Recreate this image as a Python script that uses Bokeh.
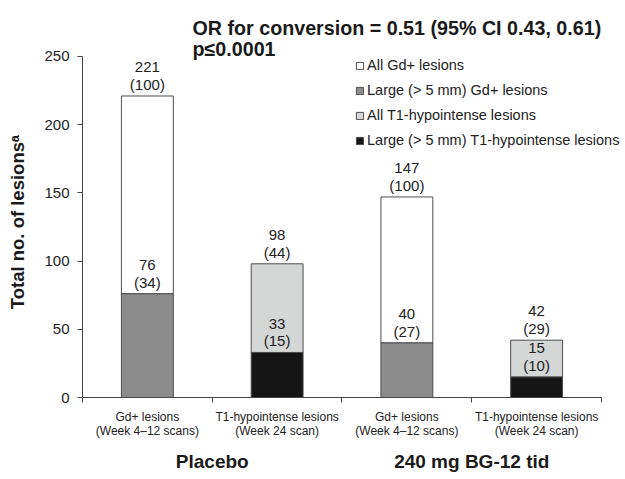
from bokeh.plotting import figure
from bokeh.models import (Range1d, LinearAxis, FixedTicker,
                          Label, Legend, LegendItem, ColumnDataSource)
from bokeh.core.properties import value
from bokeh.embed import file_html
from bokeh.resources import INLINE

# ---- data ----
groups = ["Placebo", "240 mg BG-12 tid"]
measures = ["Gd+ lesions\n(Week 4\u201312 scans)", "T1-hypointense lesions\n(Week 24 scan)",
            "Gd+ lesions\n(Week 4\u201312 scans)", "T1-hypointense lesions\n(Week 24 scan)"]
all_counts = [221, 98, 147, 42]
all_pct = [100, 44, 100, 29]
large_counts = [76, 33, 40, 15]
large_pct = [34, 15, 27, 10]
series_names = ["All Gd+ lesions", "Large (> 5 mm) Gd+ lesions",
                "All T1-hypointense lesions", "Large (> 5 mm) T1-hypointense lesions"]
y_ticks = [0, 50, 100, 150, 200, 250]
y_max = 250
title_1 = "OR for conversion = 0.51 (95% CI 0.43, 0.61)"
title_2 = "p\u22640.0001"
y_label = "Total no. of lesions\u1d43"

FONT = "Liberation Sans"
WHITE, GREY, LIGHT, BLACK = "#ffffff", "#8c8c8c", "#d5d7d7", "#151515"
OUTLINE = "#4d4d4d"
low_colors = [GREY, BLACK, GREY, BLACK]
high_colors = [WHITE, LIGHT, WHITE, LIGHT]

n = len(measures)
centers = [i + 0.5 for i in range(n)]          # category slots on the x scale
per_group = n // len(groups)
group_centers = [g * per_group + per_group / 2 for g in range(len(groups))]

# layout: the frame fills the canvas to the top/right so the title and legend
# (drawn as annotations) are not clipped; axes are bounded to the data extent
X_END = 4.185
Y_END = 291.0

p = figure(width=625, height=479, x_range=Range1d(0, X_END), y_range=Range1d(0, Y_END),
           output_backend="svg", toolbar_location=None, x_axis_location=None, title=None,
           min_border_left=82, min_border_right=0, min_border_top=0, min_border_bottom=82)
p.outline_line_color = None
p.grid.visible = False
p.background_fill_color = "white"

# y axis
ya = p.yaxis[0]
ya.ticker = FixedTicker(ticks=y_ticks)
ya.bounds = (0, y_max)
ya.minor_tick_line_color = None
ya.major_tick_out = 5
ya.major_tick_in = 0
ya.axis_line_color = "#444444"
ya.major_tick_line_color = "#444444"
ya.major_label_text_font = FONT
ya.major_label_text_font_size = "15px"
ya.major_label_text_color = "#222222"
ya.major_label_standoff = 8
# trailing no-break spaces shift the (frame-centred) label down to its place
ya.axis_label = y_label + "\u00a0" * 9
ya.axis_label_text_font = FONT
ya.axis_label_text_font_size = "18.5px"
ya.axis_label_text_font_style = "bold"
ya.axis_label_text_color = "#1a1a1a"
ya.axis_label_standoff = 13

# x axis: boundary tick marks (minor) + category labels (major, no tick line)
x_axis = LinearAxis(ticker=FixedTicker(ticks=centers, minor_ticks=list(range(n + 1))),
                    bounds=(0, n),
                    major_label_overrides={c: m for c, m in zip(centers, measures)},
                    axis_line_color="#444444",
                    major_tick_line_color=None, major_tick_out=5, major_tick_in=0,
                    minor_tick_line_color="#444444", minor_tick_out=5, minor_tick_in=0,
                    major_label_text_font=FONT, major_label_text_font_size="12px",
                    major_label_text_color="#222222", major_label_standoff=7,
                    major_label_text_line_height=1.0)
p.add_layout(x_axis, "below")

# group labels
grp_axis = LinearAxis(ticker=FixedTicker(ticks=group_centers),
                      major_label_overrides={c: g for c, g in zip(group_centers, groups)},
                      axis_line_color=None, major_tick_line_color=None, minor_tick_line_color=None,
                      major_label_text_font=FONT, major_label_text_font_size="19px",
                      major_label_text_font_style="bold",
                      major_label_text_color="#1a1a1a", major_label_standoff=4)
p.add_layout(grp_axis, "below")

# bars
src = ColumnDataSource(dict(
    x=centers, low=large_counts, high=all_counts,
    low_color=low_colors, high_color=high_colors,
    low_lbl=[f"{c}\n({q})" for c, q in zip(large_counts, large_pct)],
    high_lbl=[f"{c}\n({q})" for c, q in zip(all_counts, all_pct)],
))
r_high = p.vbar(x="x", bottom="low", top="high", width=0.4, fill_color="high_color",
                line_color=OUTLINE, line_width=1, source=src)
r_low = p.vbar(x="x", bottom=0, top="low", width=0.4, fill_color="low_color",
               line_color=OUTLINE, line_width=1, source=src)

for col, ycol in (("high_lbl", "high"), ("low_lbl", "low")):
    p.text(x="x", y=ycol, text=col, source=src, text_align="center", text_baseline="bottom",
           y_offset=-3, text_font=value(FONT), text_font_size="15px",
           text_line_height=1.05, text_color="#222222")

# legend (uses the bars themselves: Gd+ column = index 0, T1 column = index 1)
items = [LegendItem(label=series_names[0], renderers=[r_high], index=0),
         LegendItem(label=series_names[1], renderers=[r_low], index=0),
         LegendItem(label=series_names[2], renderers=[r_high], index=1),
         LegendItem(label=series_names[3], renderers=[r_low], index=1)]
legend = Legend(items=items, location=(273, 247), glyph_width=9, glyph_height=9,
                label_standoff=3, spacing=5, label_height=20, padding=0, margin=0,
                border_line_color=None, background_fill_alpha=0,
                label_text_font=FONT, label_text_font_size="14.5px",
                label_text_color="#222222")
p.add_layout(legend)

# titles
for txt, yy in ((title_1, 27), (title_2, 48)):
    p.add_layout(Label(x=192, y=yy, x_units="canvas", y_units="canvas", text=txt,
                       text_baseline="alphabetic", text_font=FONT, text_font_size="19.7px",
                       text_font_style="bold", text_color="#1a1a1a"))

open("out.html", "w").write(file_html(p, INLINE))
